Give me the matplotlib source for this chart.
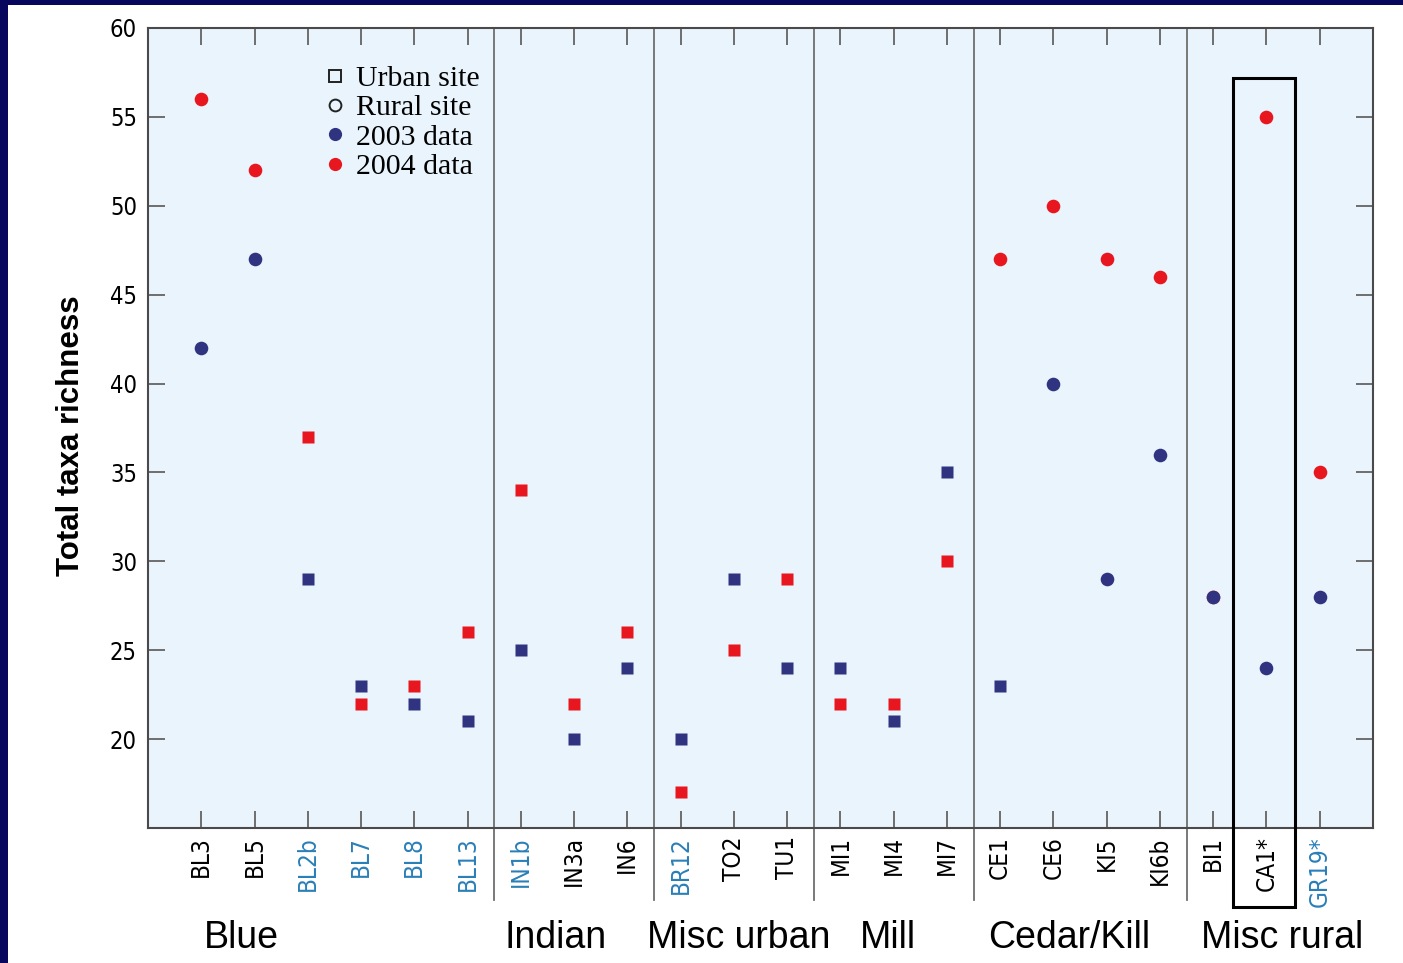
#!/usr/bin/env python
# Total taxa richness per site, 2003 vs 2004, grouped by watershed.
import matplotlib
matplotlib.use("Agg")
import matplotlib.pyplot as plt
from matplotlib.lines import Line2D
from matplotlib.patches import Rectangle
import matplotlib.transforms as mtransforms

NAVY = "#2f3380"; RED = "#e8161e"; BG = "#eaf4fc"; GRID = "#6e6e6e"
LINKBLUE = "#2a7fb8"; BORDER = "#07075e"

SITES = ["BL3", "BL5", "BL2b", "BL7", "BL8", "BL13", "IN1b", "IN3a", "IN6",
         "BR12", "TO2", "TU1", "MI1", "MI4", "MI7", "CE1", "CE6", "KI5",
         "KI6b", "BI1", "CA1*", "GR19*"]
BLUE_LABEL = ["BL2b", "BL7", "BL8", "BL13", "IN1b", "BR12", "GR19*"]

RICH_2003 = [42, 47, 29, 23, 22, 21, 25, 20, 24, 20, 29, 24, 24, 21, 35,
             23, 40, 29, 36, 28, 24, 28]
SHAPE_2003 = ["o", "o", "s", "s", "s", "s", "s", "s", "s", "s", "s", "s",
              "s", "s", "s", "s", "o", "o", "o", "o", "o", "o"]
RICH_2004 = [56, 52, 37, 22, 23, 26, 34, 22, 26, 17, 25, 29, 22, 22, 30,
             47, 50, 47, 46, 28, 55, 35]
SHAPE_2004 = ["o", "o", "s", "s", "s", "s", "s", "s", "s", "s", "s", "s",
              "s", "s", "s", "o", "o", "o", "o", "o", "o", "o"]

GROUPS = ["Blue", "Indian", "Misc urban", "Mill", "Cedar/Kill", "Misc rural"]
GROUP_X = [0.75, 6.66, 10.09, 12.9, 16.3, 20.3]
SEPARATORS = [5.5, 8.5, 11.5, 14.5, 18.5]


def build():
    fig = plt.figure(figsize=(14.03, 9.63), dpi=100)
    # navy slide frame (top and left edges)
    fig.patches.append(Rectangle((0, 0.9948), 1, 0.0052, transform=fig.transFigure,
                                 facecolor=BORDER, edgecolor="none", zorder=0))
    fig.patches.append(Rectangle((0, 0), 0.0057, 1, transform=fig.transFigure,
                                 facecolor=BORDER, edgecolor="none", zorder=0))

    ax = fig.add_axes([148 / 1403, 1 - 828 / 963, 1225 / 1403, 800 / 963])
    ax.set_facecolor(BG)
    ax.set_xlim(-1, 22)
    ax.set_ylim(15, 60)

    xs = list(range(len(SITES)))
    for x, y, m in zip(xs, RICH_2004, SHAPE_2004):
        ax.plot(x, y, marker=m, ms=9.8 if m == "o" else 9, color=RED,
                mec="none", ls="none", zorder=3)
    for x, y, m in zip(xs, RICH_2003, SHAPE_2003):
        ax.plot(x, y, marker=m, ms=9.8 if m == "o" else 9, color=NAVY,
                mec="none", ls="none", zorder=4)

    # group separators run down through the tick labels
    trans = mtransforms.blended_transform_factory(ax.transData, ax.transAxes)
    for sx in SEPARATORS:
        ax.add_line(Line2D([sx, sx], [-0.09, 1], transform=trans, color=GRID,
                           lw=1.3, clip_on=False, zorder=2))

    # highlight box around CA1*
    ax.add_patch(Rectangle((19.38, -0.099), 1.16, 1.0365, transform=trans,
                           fill=False, edgecolor="black", lw=2.2,
                           clip_on=False, zorder=5))

    ax.set_xticks(xs)
    ax.set_xticklabels(SITES, rotation=90, fontsize=17.5, family="DejaVu Sans",
                       fontstretch="condensed")
    for lab in ax.get_xticklabels():
        if lab.get_text() in BLUE_LABEL:
            lab.set_color(LINKBLUE)
    ax.set_yticks(range(20, 61, 5))
    ax.set_yticklabels([str(v) for v in range(20, 61, 5)], fontsize=17,
                       family="DejaVu Sans", fontstretch="condensed")
    ax.tick_params(axis="both", direction="in", length=12, width=1.4,
                   color=GRID, top=True, right=True, pad=8)
    ax.tick_params(axis="x", pad=6)
    for sp in ax.spines.values():
        sp.set_color("#4a4a4a")
        sp.set_linewidth(1.5)

    ax.set_ylabel("Total taxa richness", fontsize=22.5, fontweight="bold",
                  family="Liberation Sans")
    ax.yaxis.set_label_coords(-0.051, 0.49)

    for gx, g in zip(GROUP_X, GROUPS):
        ax.text(gx, -0.137, g, transform=trans, ha="center", va="center",
                fontsize=27, family="Liberation Sans")

    handles = [
        Line2D([], [], marker="s", ls="none", ms=8.5, mfc="none", mec="#222", mew=1.4),
        Line2D([], [], marker="o", ls="none", ms=8.5, mfc="none", mec="#222", mew=1.4),
        Line2D([], [], marker="o", ls="none", ms=9.5, color=NAVY, mec="none"),
        Line2D([], [], marker="o", ls="none", ms=9.5, color=RED, mec="none"),
    ]
    ax.legend(handles, ["Urban site", "Rural site", "2003 data", "2004 data"],
              loc="upper left", bbox_to_anchor=(0.121, 0.987), frameon=False,
              handlelength=0.8, handletextpad=0.3, labelspacing=0.08,
              prop={"family": ["Liberation Serif", "DejaVu Serif"], "size": 21.5})

    fig.savefig("out.png", dpi=100, facecolor="white")
    plt.close(fig)


if __name__ == "__main__":
    build()
